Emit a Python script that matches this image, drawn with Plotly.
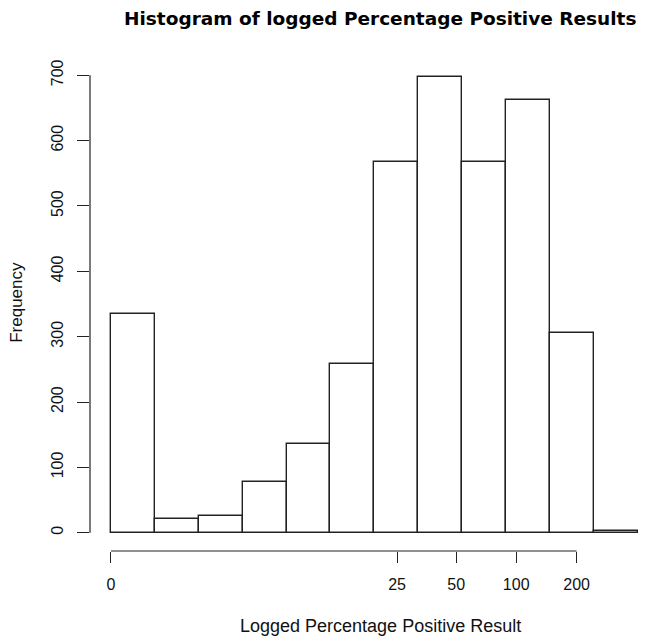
import numpy as np
import plotly.graph_objects as go

# ---- data ----
bin_edges = [0.0, 0.5, 1.0, 1.5, 2.0, 2.5, 3.0, 3.5, 4.0, 4.5, 5.0, 5.5, 6.0]
frequencies = [334, 21, 26, 78, 136, 258, 567, 697, 567, 662, 306, 2]
x_tick_values = [0, 25, 50, 100, 200]
x_tick_labels = ["0", "25", "50", "100", "200"]
y_tick_values = [0, 100, 200, 300, 400, 500, 600, 700]

title_text = "Histogram of logged Percentage Positive Results"
x_title = "Logged Percentage Positive Result"
y_title = "Frequency"

centers = [(a + b) / 2 for a, b in zip(bin_edges[:-1], bin_edges[1:])]
widths = [b - a for a, b in zip(bin_edges[:-1], bin_edges[1:])]
x_tick_pos = list(np.log1p(x_tick_values))

W, H = 645, 637
ML, MR, MT, MB = 90, 0, 57.4, 86
PW = W - ML - MR
PH = H - MT - MB

def px2paper_x(px):
    return (px - ML) / PW

def px2paper_y(py):
    return (H - MB - py) / PH

fig = go.Figure()
fig.add_trace(go.Bar(
    x=centers, y=frequencies, width=widths,
    marker=dict(color="white", line=dict(color="#222222", width=1.4)),
    hoverinfo="skip",
))

tick_font = dict(family="Liberation Sans, Arial, sans-serif", size=16, color="#111111")

fig.update_layout(
    width=W, height=H,
    margin=dict(l=ML, r=MR, t=MT, b=MB, pad=0),
    paper_bgcolor="white", plot_bgcolor="white",
    showlegend=False,
    bargap=0,
    xaxis=dict(
        range=[-0.239, -0.239 + PW / 87.8],
        tickmode="array", tickvals=x_tick_pos, ticktext=x_tick_labels,
        ticks="outside", ticklen=11, tickwidth=1.2, tickcolor="#222222",
        showline=False, showgrid=False, zeroline=False,
        tickfont=tick_font, ticklabelstandoff=8,
    ),
    yaxis=dict(
        range=[-28, 728],
        tickmode="array", tickvals=y_tick_values,
        ticks="outside", ticklen=12, tickwidth=1.2, tickcolor="#222222",
        showline=False, showgrid=False, zeroline=False,
        tickfont=tick_font, tickangle=-90, ticklabelstandoff=8,
    ),
)

# partial axis lines (R style: from first to last tick)
fig.add_shape(type="line", xref="x", yref="paper",
              x0=x_tick_pos[0], x1=x_tick_pos[-1], y0=0, y1=0,
              line=dict(color="#222222", width=1.2))
fig.add_shape(type="line", xref="paper", yref="y",
              x0=0, x1=0, y0=y_tick_values[0], y1=y_tick_values[-1],
              line=dict(color="#222222", width=1.2))

fig.add_annotation(text="<b>" + title_text + "</b>", xref="paper", yref="paper",
                   x=px2paper_x(380), y=px2paper_y(19), showarrow=False,
                   xanchor="center", yanchor="middle",
                   font=dict(family="DejaVu Sans, sans-serif", size=18.5, color="black"))
fig.add_annotation(text=x_title, xref="paper", yref="paper",
                   x=px2paper_x(380), y=px2paper_y(626), showarrow=False,
                   xanchor="center", yanchor="middle",
                   font=dict(family="Liberation Sans, Arial, sans-serif", size=18, color="#111111"))
fig.add_annotation(text=y_title, xref="paper", yref="paper",
                   x=px2paper_x(17), y=px2paper_y(303), showarrow=False,
                   xanchor="center", yanchor="middle", textangle=-90,
                   font=dict(family="Liberation Sans, Arial, sans-serif", size=17, color="#111111"))

fig.write_html("out.html")
